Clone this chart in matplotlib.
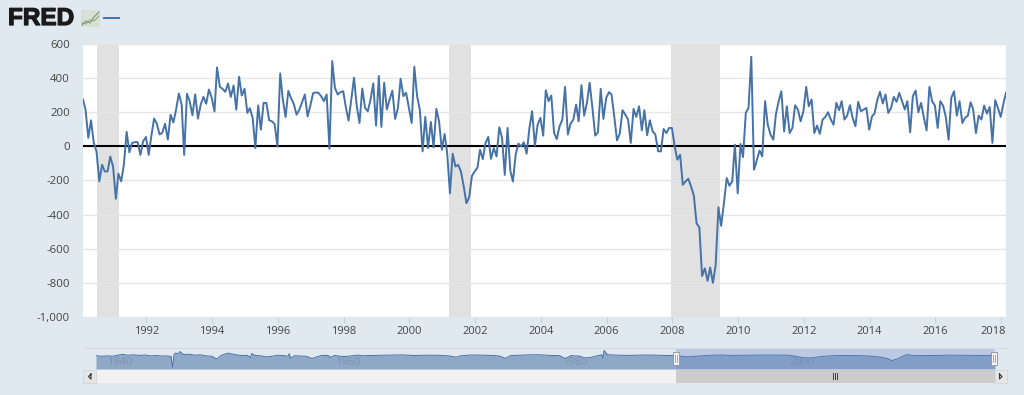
import pandas as pd
import matplotlib
matplotlib.use("Agg")
import matplotlib.pyplot as plt
import matplotlib.patheffects as pe
from matplotlib.patches import Rectangle

W, H = 1024, 395
BG = "#e1e9f0"
BLUE = "#4572a7"
TXT = "#444444"

# monthly change, Feb 1990 onward
vals_1990s = [275, 215, 50, 153, 20, -30, -205, -108, -147, -147, -60, -118,
              -307, -160, -205, -108, 85, -35, 20, 25, 25, -50, 30, 55,
              -50, 60, 163, 133, 70, 80, 133, 40, 185, 140, 215, 310,
              245, -50, 308, 265, 182, 305, 163, 245, 290, 250, 333, 285,
              204, 463, 350, 337, 320, 368, 290, 357, 215, 408, 298, 337,
              196, 224, 167, -10, 240, 98, 255, 255, 153, 147, 131, 0,
              427, 275, 172, 325, 282, 249, 186, 215, 259, 304, 176, 239,
              312, 316, 314, 294, 265, 304, -14, 500, 343, 304, 318, 323,
              225, 151, 275, 402, 235, 137, 339, 225, 206, 275, 369, 122,
              412, 114, 373, 216, 275, 327, 161, 225, 396, 294, 314, 225]
vals_2000s = [137, 467, 294, 216, -29, 173, -10, 143, -6, 220, 147, -20,
              73, -39, -275, -43, -118, -108, -147, -235, -333, -298, -173, -147,
              -124, -20, -75, 20, 55, -73, -10, -59, 112, 49, -167, 108,
              -143, -206, -49, 16, 0, 24, -43, 108, 206, 4, 127, 167,
              63, 329, 265, 298, 78, 43, 118, 157, 349, 69, 133, 157,
              245, 147, 359, 180, 255, 373, 225, 63, 82, 337, 161, 284,
              318, 304, 173, 35, 75, 212, 186, 157, 20, 220, 173, 235,
              94, 212, 65, 153, 88, 70, -29, -29, 102, 78, 108, 108,
              0, -78, -49, -225, -205, -190, -235, -290, -451, -475, -760, -715,
              -788, -710, -800, -696, -357, -466, -333, -186, -231, -206, 10, -275]
vals_2010s = [14, -63, 196, 225, 525, -137, -82, -24, -59, 265, 127, 69,
              39, 186, 265, 323, 88, 235, 78, 108, 241, 216, 147, 206,
              349, 235, 275, 78, 122, 73, 157, 173, 200, 157, 127, 255,
              212, 265, 157, 180, 241, 167, 118, 261, 206, 216, 225, 98,
              176, 192, 271, 320, 251, 304, 196, 225, 290, 261, 314, 265,
              216, 265, 82, 294, 327, 200, 255, 167, 94, 349, 265, 239,
              108, 265, 239, 173, 39, 284, 323, 180, 265, 137, 167, 180,
              259, 216, 78, 180, 157, 239, 192, 231, 20, 271, 225, 173,
              251, 314]
values = vals_1990s + vals_2000s + vals_2010s
dates = pd.date_range("1990-02-01", periods=len(values), freq="MS")

recessions = [("1990-07-01", "1991-03-08"), ("2001-03-20", "2001-11-20"), ("2007-12-20", "2009-06-20")]
y_ticks = [-1000, -800, -600, -400, -200, 0, 200, 400, 600]
x_years = list(range(1992, 2020, 2))

# overview strip
nav_years = [1939, 1939.5, 1940, 1940.5, 1941, 1941.4, 1941.8, 1942.3, 1942.8, 1943.3, 1943.8, 1944.3, 1944.8, 1945.2,
             1945.6, 1945.75, 1945.85, 1946, 1946.2, 1946.4, 1946.7, 1947.2, 1947.7, 1948.2, 1948.7, 1949.2,
             1949.6, 1949.8, 1950, 1950.3, 1950.6, 1950.9, 1951.4, 1951.9, 1952.3, 1952.6, 1952.7, 1953, 1953.5,
             1954, 1954.5, 1955, 1955.5, 1955.9, 1956, 1956.1, 1956.5, 1957, 1957.5, 1958, 1958.3, 1958.8, 1959.3,
             1959.5, 1959.6, 1960, 1960.5, 1961, 1961.5, 1962, 1962.5, 1963, 1964, 1965, 1966, 1967, 1968, 1969,
             1970, 1970.7, 1971, 1972, 1973, 1974, 1974.5, 1975, 1975.5, 1976, 1977, 1978, 1979, 1979.8, 1980.3,
             1980.8, 1981, 1981.5, 1982, 1982.5, 1983, 1983.5, 1983.6, 1983.7, 1984, 1985, 1986, 1987, 1988,
             1989, 1990, 1991, 1992, 1993, 1994, 1995, 1996, 1997, 1998, 1999, 2000, 2001, 2001.8, 2003,
             2004, 2005, 2006, 2007, 2008, 2008.7, 2009, 2009.5, 2010, 2010.4, 2011, 2012, 2013, 2014, 2015,
             2016, 2017, 2018.1]
nav_vals = [150, 50, 120, 60, 280, 380, 230, 310, 200, 280, 120, 180, 90, 120,
            0, -2000, 300, 650, 450, 900, 350, 420, 260, 300, 120, 30,
            -450, -150, 200, 420, 620, 480, 300, 150, 240, -200, 550, 180, 120,
            -70, 60, 220, 180, 50, 520, -300, 150, 90, 40, -350, -150, 170, 230,
            100, -180, 200, 40, 20, 120, 250, 140, 170, 230, 260, 300, 180, 240, 230,
            120, -120, 100, 280, 250, 180, 80, -330, 180, 220, 300, 320, 200, 150, -400,
            180, 120, 100, -250, -180, 80, 330, -300, 1100, 330, 240, 200, 270, 260,
            200, 180, -50, 100, 230, 280, 200, 230, 260, 280, 260, 240, -120, -280, 40,
            170, 190, 170, 100, -100, -400, -750, -450, 80, 350, 170, 180, 190, 250, 230,
            190, 190, 200]
nav_labels = [1940, 1960, 1980, 2000]

fig = plt.figure(figsize=(W / 100, H / 100), dpi=100, facecolor=BG)
plt.rcParams["font.family"] = ["Open Sans", "DejaVu Sans"]


def px_axes(x0, y0, x1, y1):
    # axes placed by pixel box, y counted from the top
    return fig.add_axes([x0 / W, 1 - y1 / H, (x1 - x0) / W, (y1 - y0) / H])


# main chart
ax = px_axes(83, 44, 1006, 317)
ax.set_facecolor("white")
ax.set_xlim(dates[0], dates[-1])
ax.set_ylim(-1000, 600)
for start, end in recessions:
    ax.axvspan(pd.Timestamp(start), pd.Timestamp(end), color="#e1e1e1", lw=0, zorder=1)
ax.set_yticks(y_ticks)
ax.set_yticklabels([f"{v:,}" for v in y_ticks], fontsize=8.2, color=TXT)
ax.grid(axis="y", color="#e6e6e6", lw=1, zorder=1.5)
ax.axhline(0, color="black", lw=1.5, zorder=2)
ax.plot(dates, values, color=BLUE, lw=1.4, zorder=3, solid_joinstyle="round")
ax.set_xticks([pd.Timestamp(f"{y}-01-05") for y in x_years])
ax.set_xticklabels([str(y) for y in x_years[:-1]] + [""], fontsize=8, color=TXT)
ax.annotate(str(x_years[-1]), xy=(1, 0), xycoords="axes fraction",
            xytext=(0, -6.6), textcoords="offset points", ha="right", va="top", fontsize=8, color=TXT)
ax.tick_params(axis="y", length=0, pad=9.5)
ax.tick_params(axis="x", length=4, width=0.8, color="#c8d2dc", pad=2.6, bottom=True)
for s in ax.spines.values():
    s.set_visible(False)

# overview strip
nav = px_axes(96, 348, 995, 369)
nav.set_facecolor(BG)
nav.set_xlim(1939, 2018.1)
nav.set_ylim(-2270, 1550)
nav.fill_between(nav_years, nav_vals, -2270, color="#8fa8c8", lw=0, zorder=1)
nav.plot(nav_years, nav_vals, color=BLUE, lw=0.7, zorder=2)
nav.axvspan(1990, 2018.1, color="#6685c2", alpha=0.3, lw=0, zorder=3)
for y in nav_labels:
    nav.text(y, -1100, str(y), fontsize=8, color="#7f93ad", va="center", zorder=2)
nav.set_xticks([])
nav.set_yticks([])
for s in nav.spines.values():
    s.set_visible(False)

# page chrome in pixel coordinates
top = px_axes(0, 0, W, H)
top.set_xlim(0, W)
top.set_ylim(H, 0)
top.axis("off")
top.patch.set_alpha(0)
top.text(8, 18.5, "FRED", fontsize=17.5, fontweight="bold", family="Liberation Sans", color="#1a1a1a",
         va="center", ha="left", path_effects=[pe.withStroke(linewidth=0.9, foreground="#1a1a1a")])
top.add_patch(Rectangle((81, 10), 19, 17, color="#d8e0d4", lw=0))
top.plot([82, 86, 90, 94, 99], [25, 21, 23, 17, 12], color="#7d9470", lw=0.8)
top.plot([82, 86, 90, 94, 99], [23, 24, 20, 21, 16], color="#8a9a8a", lw=0.7)
top.plot([104, 119], [17.5, 17.5], color=BLUE, lw=1.4)
top.plot([83, 1007], [347.5, 347.5], color="#d5dbe1", lw=0.8)
# scrollbar
top.add_patch(Rectangle((96, 370), 899, 13, color="#f2f2f2", lw=0))
top.add_patch(Rectangle((676, 370), 319, 13, color="#cccccc", lw=0))
top.add_patch(Rectangle((83, 370), 13, 13, facecolor="#e6e6e6", edgecolor="#d4d4d4", lw=0.6))
top.add_patch(Rectangle((995, 370), 12, 13, facecolor="#e6e6e6", edgecolor="#d4d4d4", lw=0.6))
top.plot([91, 88.5, 91, 91], [374, 376.5, 379, 374], color="#333333", lw=0.8)
top.plot([999.5, 1002, 999.5, 999.5], [374, 376.5, 379, 374], color="#333333", lw=0.8)
for gx in (833, 835, 837):
    top.plot([gx, gx], [373, 379], color="#444444", lw=0.7)
for hx in (676, 994):
    top.add_patch(Rectangle((hx - 3, 352), 6, 13, facecolor="#f5f5f5", edgecolor="#999999", lw=0.7))
    top.plot([hx - 1, hx - 1], [355, 362], color="#888888", lw=0.5)
    top.plot([hx + 1, hx + 1], [355, 362], color="#888888", lw=0.5)

fig.savefig("out.png", dpi=100, facecolor=BG)
